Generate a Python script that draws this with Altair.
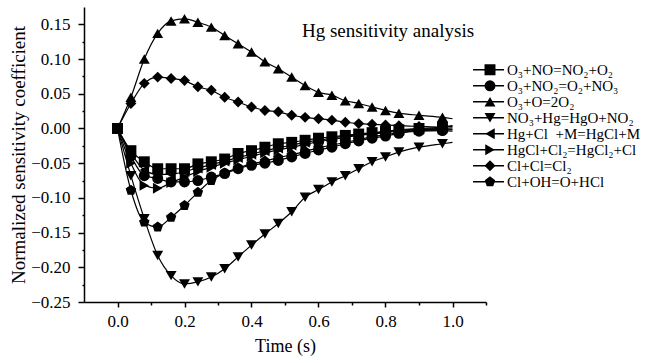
import altair as alt
import pandas as pd

# ---- data ----
t = [0, .04, .08, .12, .16, .20, .24, .28, .32, .36, .40, .44, .48, .52,
     .56, .60, .64, .68, .72, .76, .80, .84, .90, .97]
t_end = 1.0

labels = ["O₃+NO=NO₂+O₂", "O₃+NO₂=O₂+NO₃", "O₃+O=2O₂", "NO₃+Hg=HgO+NO₂",
          "Hg+Cl\u00a0\u00a0+M=HgCl+M", "HgCl+Cl₂=HgCl₂+Cl", "Cl+Cl=Cl₂", "Cl+OH=O+HCl"]

s_square = [0, -0.032, -0.048, -0.058, -0.058, -0.058, -0.051, -0.048, -0.044, -0.036, -0.032, -0.027,
            -0.022, -0.020, -0.017, -0.014, -0.012, -0.010, -0.008, -0.006, -0.004, -0.002, 0.000, 0.002]
s_circle = [0, -0.040, -0.068, -0.072, -0.077, -0.077, -0.075, -0.070, -0.065, -0.058, -0.053, -0.050,
            -0.046, -0.041, -0.036, -0.031, -0.027, -0.022, -0.018, -0.014, -0.011, -0.007, -0.004, -0.003]
s_triup = [0, 0.045, 0.100, 0.137, 0.155, 0.158, 0.153, 0.146, 0.134, 0.122, 0.110, 0.096,
           0.086, 0.074, 0.062, 0.052, 0.048, 0.040, 0.036, 0.031, 0.026, 0.022, 0.019, 0.016]
s_tridown = [0, -0.068, -0.130, -0.183, -0.212, -0.224, -0.221, -0.214, -0.202, -0.185, -0.168, -0.152,
             -0.137, -0.120, -0.099, -0.088, -0.077, -0.068, -0.058, -0.048, -0.041, -0.034, -0.027, -0.022]
s_trileft = [0, -0.035, -0.060, -0.066, -0.066, -0.062, -0.057, -0.052, -0.047, -0.042, -0.037, -0.032,
             -0.028, -0.024, -0.020, -0.017, -0.014, -0.011, -0.009, -0.007, -0.005, -0.003, -0.001, 0.000]
s_triright = [0, -0.050, -0.082, -0.086, -0.078, -0.070, -0.062, -0.056, -0.050, -0.045, -0.040, -0.035,
              -0.031, -0.027, -0.023, -0.019, -0.016, -0.013, -0.010, -0.008, -0.006, -0.004, -0.002, -0.001]
s_diamond = [0, 0.036, 0.065, 0.074, 0.072, 0.069, 0.060, 0.055, 0.045, 0.038, 0.031, 0.026,
             0.024, 0.019, 0.016, 0.014, 0.012, 0.009, 0.007, 0.006, 0.005, 0.004, 0.003, 0.002]
s_pentagon = [0, -0.089, -0.135, -0.142, -0.128, -0.111, -0.092, -0.075, -0.064, -0.057, -0.051, -0.047,
              -0.042, -0.038, -0.033, -0.028, -0.024, -0.020, -0.016, -0.012, -0.009, -0.006, -0.003, -0.002]
end_values = [0.004, -0.004, 0.014, -0.020, 0.001, -0.001, 0.003, -0.002]

x_ticks = [0.0, 0.1, 0.2, 0.3, 0.4, 0.5, 0.6, 0.7, 0.8, 0.9, 1.0, 1.1]
y_ticks = [-0.25, -0.225, -0.2, -0.175, -0.15, -0.125, -0.1, -0.075, -0.05, -0.025,
           0.0, 0.025, 0.05, 0.075, 0.1, 0.125, 0.15]
chart_title = ["Hg sensitivity analysis"]

series = [s_square, s_circle, s_triup, s_tridown, s_trileft, s_triright, s_diamond, s_pentagon]
pentagon = "M0,-1L0.951,-0.309L0.588,0.809L-0.588,0.809L-0.951,-0.309Z"
shapes = ["square", "circle", "triangle-up", "triangle-down", "triangle-left",
          "triangle-right", "diamond", pentagon]

pts = []
lines = []
for lab, vals, ev in zip(labels, series, end_values):
    for tt, v in zip(t, vals):
        pts.append({"t": tt, "v": v, "series": lab})
        lines.append({"t": tt, "v": v, "series": lab})
    lines.append({"t": t_end, "v": ev, "series": lab})
df_pts = pd.DataFrame(pts)
df_lines = pd.DataFrame(lines)

FONT = "Liberation Serif"
x_scale = alt.Scale(domain=[-0.1, 1.1], nice=False, zero=False)
y_scale = alt.Scale(domain=[-0.25, 0.175], nice=False, zero=False)

x_axis = alt.Axis(values=x_ticks, title="Time (s)", labelOverlap=False,
                  labelExpr="abs(round(datum.value*10)) % 2 == 0 && datum.value < 1.05 ? format(datum.value, '.1f') : ''",
                  tickSize={"condition": {"test": "abs(round(datum.value*10)) % 2 == 0", "value": 5}, "value": 3},
                  labelFont=FONT, labelFontSize=17, labelColor="black",
                  titleFont=FONT, titleFontSize=18, titleFontWeight="normal", titleColor="black",
                  labelPadding=6, titlePadding=8)
y_axis = alt.Axis(values=y_ticks, title="Normalized sensitivity coefficient", labelOverlap=False,
                  labelExpr="abs(round(datum.value*40)) % 2 == 0 ? format(datum.value, '.2f') : ''",
                  tickSize={"condition": {"test": "abs(round(datum.value*40)) % 2 == 0", "value": 6}, "value": 2},
                  labelFont=FONT, labelFontSize=17, labelColor="black",
                  titleFont=FONT, titleFontSize=19, titleFontWeight="normal", titleColor="black",
                  labelPadding=8, titlePadding=2)

line_layer = alt.Chart(df_lines).mark_line(interpolate="monotone", strokeWidth=1.2).encode(
    x=alt.X("t:Q", scale=x_scale, axis=x_axis),
    y=alt.Y("v:Q", scale=y_scale, axis=y_axis),
    color=alt.Color("series:N", sort=labels, scale=alt.Scale(range=["#000000"] * 8),
                    legend=alt.Legend(orient="none", legendX=388, legendY=55, title=None,
                                      symbolType="stroke", symbolSize=961, symbolStrokeWidth=1.5,
                                      labelFont=FONT, labelFontSize=15, labelColor="black",
                                      labelOffset=2, labelLimit=400, clipHeight=15.7, rowPadding=0,
                                      padding=0)),
    detail="series:N",
)

point_layer = alt.Chart(df_pts).mark_point(filled=True, color="black", size=120, opacity=1).encode(
    x=alt.X("t:Q", scale=x_scale, axis=x_axis),
    y=alt.Y("v:Q", scale=y_scale, axis=y_axis),
    shape=alt.Shape("series:N", scale=alt.Scale(domain=labels, range=shapes),
                    legend=alt.Legend(orient="none", legendX=398.5, legendY=55, title=None,
                                      symbolSize=120, symbolFillColor="black", symbolStrokeColor="black",
                                      symbolOpacity=1, labelExpr="''", labelFontSize=15,
                                      clipHeight=15.7, rowPadding=0, padding=0)),
)

title_layer = alt.Chart(pd.DataFrame({"txt": chart_title})).mark_text(
    align="left", baseline="middle", font=FONT, fontSize=19, color="black"
).encode(text="txt:N", x=alt.value(218), y=alt.value(24))

chart = alt.layer(line_layer, point_layer, title_layer).properties(
    width=402, height=295,
    autosize=alt.AutoSizeParams(type="none"),
    padding={"left": 84, "top": 7, "right": 161, "bottom": 61},
).configure_view(stroke=None).configure_axis(
    grid=False, domainColor="black", domainWidth=1.5, tickColor="black", tickWidth=1.5,
).configure_legend(labelFont=FONT)

chart.save("out.html", embed_options={"renderer": "svg", "actions": False})
